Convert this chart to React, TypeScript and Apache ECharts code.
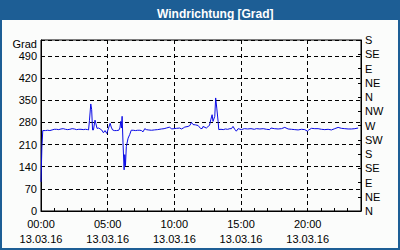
import React, { useEffect, useRef } from 'react';
import * as echarts from 'echarts';

const chartTitle = 'Windrichtung [Grad]';
const unitLabel = 'Grad';
const dateLabel = '13.03.16';
const hourLabels = ['00:00', '05:00', '10:00', '15:00', '20:00'];
const compassLabels = ['N', 'NE', 'E', 'SE', 'S', 'SW', 'W', 'NW', 'N', 'NE', 'E', 'SE', 'S'];

// time of day in minutes
const minutes = [
  0, 4, 8, 20, 30, 40, 50, 60, 70, 80, 90, 100, 110, 120, 130, 140, 150, 160, 170, 180,
  190, 200, 210, 214, 218, 224, 228, 232, 236, 243, 247, 252, 260, 266, 273, 281, 288, 296,
  304, 311, 316, 322, 330, 340, 350, 355, 359, 362, 365, 369, 374, 377, 380, 384, 392, 399,
  406, 415, 425, 435, 445, 452, 459, 467, 474, 482, 497, 510, 525, 542, 554, 564, 579, 587,
  598, 609, 624, 632, 640, 647, 662, 670, 677, 684, 695, 707, 719, 726, 729, 744, 752, 758,
  764, 770, 774, 782, 786, 791, 797, 800, 810, 820, 830, 840, 850, 857, 864, 872, 879, 887,
  902, 915, 930, 945, 960, 969, 985, 1000, 1015, 1029, 1035, 1050, 1067, 1082, 1097, 1112,
  1127, 1142, 1157, 1172, 1187, 1199, 1205, 1217, 1232, 1247, 1262, 1277, 1292, 1307, 1322,
  1337, 1352, 1367, 1382, 1397, 1412, 1427,
];
// wind direction in degrees
const direction = [
  92, 200, 254, 254, 255, 254, 256, 258, 258, 257, 259, 260, 258, 257, 258, 260, 259, 257, 258, 258,
  257, 258, 257, 256, 285, 338, 320, 256, 256, 287, 276, 261, 262, 259, 256, 247, 254, 245,
  262, 277, 265, 256, 254, 254, 255, 262, 283, 262, 299, 215, 130, 178, 143, 204, 230, 241,
  255, 255, 254, 255, 255, 254, 250, 260, 257, 256, 255, 256, 257, 259, 260, 262, 265, 259,
  260, 261, 262, 259, 262, 265, 267, 270, 280, 273, 272, 270, 260, 261, 267, 262, 267, 270,
  288, 304, 283, 299, 357, 325, 283, 257, 258, 257, 259, 258, 260, 260, 267, 258, 252, 260,
  257, 260, 259, 260, 258, 260, 259, 260, 258, 257, 262, 260, 259, 260, 264, 259,
  258, 257, 256, 258, 257, 252, 256, 261, 260, 260, 258, 257, 258, 256, 260,
  264, 261, 260, 259, 259, 260, 262,
];

const FONT = "'Liberation Sans', Arial, sans-serif";
const FRAME = '#1d5e95';

export default function App() {
  const ref = useRef<HTMLDivElement>(null);
  useEffect(() => {
    document.body.style.margin = '0';
    const chart = echarts.init(ref.current!, null, { renderer: 'svg' });
    const labelStyle = { color: '#000', fontSize: 11, fontFamily: FONT };
    chart.setOption({
      animation: false,
      backgroundColor: FRAME,
      title: {
        text: chartTitle,
        left: 152,
        top: 3,
        textStyle: { color: '#fff', fontSize: 12, fontWeight: 'bold', fontFamily: FONT },
      },
      graphic: [
        {
          type: 'rect',
          z: -10,
          silent: true,
          shape: { x: 2, y: 20, width: 396, height: 228 },
          style: { fill: '#fbfcfb' },
        },
        {
          type: 'text',
          x: 37,
          y: 44,
          style: {
            text: unitLabel,
            align: 'right',
            verticalAlign: 'middle',
            fill: '#000',
            font: `11px ${FONT}`,
            lineHeight: 10,
          },
        },
      ],
      grid: {
        left: 41,
        top: 40,
        right: 39,
        bottom: 39,
        show: true,
        borderColor: '#000',
        borderWidth: 1,
        backgroundColor: 'transparent',
      },
      xAxis: {
        type: 'value',
        min: 0,
        max: 1440,
        interval: 300,
        axisLine: { show: true, lineStyle: { color: '#000', width: 1 } },
        axisTick: { show: true, inside: true, length: 3, lineStyle: { color: '#000' } },
        minorTick: { show: true, splitNumber: 5, length: 3, lineStyle: { color: '#000' } },
        splitLine: { show: true, lineStyle: { color: '#000', type: [4, 3], width: 1 } },
        axisLabel: {
          ...labelStyle,
          margin: 5,
          lineHeight: 15,
          showMaxLabel: false,
          formatter: (v: number) =>
            v % 300 === 0 && v < 1440 ? `${hourLabels[v / 300]}\n${dateLabel}` : '',
        },
      },
      yAxis: [
        {
          type: 'value',
          position: 'left',
          min: 0,
          max: 540,
          interval: 70,
          axisLine: { show: true, lineStyle: { color: '#000', width: 1 } },
          axisTick: { show: false },
          splitLine: { show: true, lineStyle: { color: '#000', type: [4, 3], width: 1 } },
          axisLabel: {
            ...labelStyle,
            margin: 4,
            lineHeight: 10,
            formatter: (v: number) => (v <= 490 ? String(v) : ''),
          },
        },
        {
          type: 'value',
          position: 'right',
          min: 0,
          max: 540,
          interval: 45,
          axisLine: { show: true, lineStyle: { color: '#000', width: 1 } },
          axisTick: { show: true, inside: true, length: 3, lineStyle: { color: '#000' } },
          splitLine: { show: false },
          axisLabel: {
            ...labelStyle,
            margin: 4,
            lineHeight: 10,
            formatter: (v: number) => compassLabels[Math.round(v / 45)] ?? '',
          },
        },
      ],
      series: [
        {
          type: 'line',
          yAxisIndex: 0,
          data: minutes.map((m, i) => [m, direction[i]]),
          symbol: 'none',
          lineStyle: { color: '#0a0ae6', width: 1 },
        },
      ],
    });
    return () => chart.dispose();
  }, []);
  return <div ref={ref} style={{ width: 400, height: 250 }} />;
}
